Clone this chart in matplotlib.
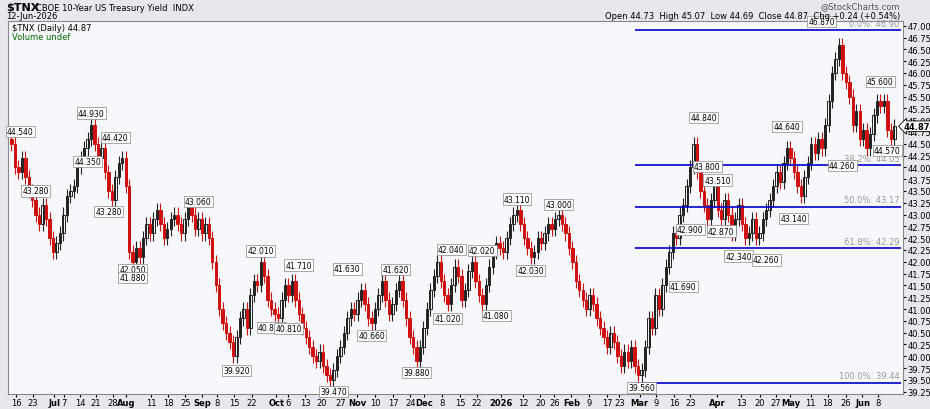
import matplotlib.pyplot as plt
import numpy as np

# daily closes, Jun 16 2025 .. Jun 12 2026
closes = [
    44.5, 44.0, 43.9, 44.2, 43.8, 43.5, 43.3, 43.0, 42.8, 43.2, 42.9,
    42.5, 42.2, 42.4, 42.6, 43.0, 43.4, 43.5, 43.6, 44.0, 44.2, 44.4, 44.6, 44.9, 44.5, 44.2, 44.4, 43.9, 43.5, 43.3, 43.8, 44.1, 44.2, 43.6,
    42.2, 42.0, 42.3, 42.1, 42.5, 42.8, 42.6, 42.9, 43.1, 42.8, 42.5, 42.7, 42.9, 43.0, 42.8, 42.6, 42.9, 43.2, 43.0, 42.7, 42.9,
    42.6, 42.8, 42.5, 42.0, 41.5, 41.0, 40.7, 40.5, 40.3, 40.0, 40.4, 40.8, 41.0, 40.6, 41.3, 41.6, 41.5, 42.0, 41.7, 41.2, 41.0, 40.9,
    40.8, 41.2, 41.5, 41.3, 41.6, 41.2, 40.9, 40.6, 40.4, 40.2, 40.0, 39.9, 40.1, 39.8, 39.6, 39.5, 39.7, 40.0, 40.2, 40.5, 40.8, 41.0, 40.9,
    41.2, 41.4, 41.1, 40.8, 40.7, 41.0, 41.3, 41.6, 41.2, 40.9, 41.1, 41.4, 41.6, 41.2, 40.8, 40.4, 40.2, 39.9, 40.2, 40.6,
    41.0, 41.4, 41.7, 42.0, 41.6, 41.3, 41.1, 41.5, 41.9, 41.7, 41.2, 41.4, 41.8, 42.0, 41.6, 41.3, 41.1, 41.5, 41.9, 42.2, 42.4, 42.3,
    42.2, 42.5, 42.8, 43.0, 43.1, 42.8, 42.5, 42.3, 42.1, 42.2, 42.5, 42.4, 42.6, 42.8, 42.7, 42.9, 43.0, 42.8, 42.6, 42.3, 42.0,
    41.6, 41.4, 41.2, 41.0, 41.3, 41.1, 40.8, 40.6, 40.4, 40.2, 40.5, 40.3, 40.0, 39.8, 40.1, 39.9, 40.2, 39.8, 39.6, 39.7,
    40.2, 40.8, 40.6, 41.3, 41.0, 41.5, 41.9, 42.2, 42.6, 42.5, 43.0, 43.2, 43.6, 44.0, 44.5, 43.9, 43.5, 43.2, 42.9, 43.3, 43.6, 43.1,
    42.9, 43.3, 43.0, 42.6, 42.9, 43.2, 42.8, 42.5, 42.6, 42.9, 42.5, 42.6, 42.9, 43.1, 43.3, 43.6, 43.9, 43.7, 44.1, 44.4, 44.2, 43.9,
    43.6, 43.4, 43.8, 44.1, 44.5, 44.3, 44.6, 44.4, 44.9, 45.4, 46.0, 46.3, 46.6, 46.0, 45.8, 45.5, 44.9, 45.2, 44.6, 44.8,
    44.4, 44.7, 45.1, 45.4, 45.3, 45.4, 44.8, 44.6, 44.87,
]
first_open = 44.6

# x-axis tick labels (day index, label)
tick_pos = [1.3, 6.2, 12.3, 15.2, 19.8, 24.4, 29.3, 33.1, 40.3, 45.2, 50.2, 55.1, 59.4, 64.4, 69.5, 76.5, 79.9, 84.8,
            89.5, 95.0, 99.9, 105.1, 110.3, 115.2, 119.2, 124.4, 129.6, 134.4, 141.5, 147.8, 152.8, 156.8, 161.7,
            166.9, 172.1, 175.6, 181.4, 186.3, 191.5, 196.1, 203.9, 210.8, 216.1, 220.7, 225.0, 230.8, 235.7, 240.9,
            245.8, 250.4]
tick_lab = ['16', '23', 'Jul', '7', '14', '21', '28', 'Aug', '11', '18', '25', 'Sep', '8', '15', '22', 'Oct', '6', '13',
            '20', '27', 'Nov', '10', '17', '24', 'Dec', '8', '15', '22', '2026', '12', '20', '26', 'Feb', '9', '17', '23',
            'Mar', '9', '16', '23', 'Apr', '13', '20', '27', 'May', '11', '18', '26', 'Jun', '8']
bold_lab = {'Jul', 'Aug', 'Sep', 'Oct', 'Nov', 'Dec', '2026', 'Feb', 'Mar', 'Apr', 'May', 'Jun'}

fib_vals = [46.90, 44.05, 43.17, 42.29, 39.44]
fib_text = ['0.0%: 46.90', '38.2%: 44.05', '50.0%: 43.17', '61.8%: 42.29', '100.0%: 39.44']
fib_start = 180

# peak / trough labels (day index, value)
marks = [(1, 44.54), (7, 43.28), (22, 44.35), (23, 44.93), (28, 43.28), (30, 44.42), (35, 42.05), (35, 41.88),
         (54, 43.06), (65, 39.92), (72, 42.01), (75, 40.83), (80, 40.81), (83, 41.71), (93, 39.47), (97, 41.63),
         (104, 40.66), (111, 41.62), (117, 39.88), (127, 42.04), (126, 41.02), (136, 42.02), (140, 41.08),
         (146, 43.11), (150, 42.03), (158, 43.00), (182, 39.56), (194, 41.69), (196, 42.90), (200, 44.84),
         (201, 43.80), (204, 43.51), (205, 42.87), (210, 42.34), (218, 42.26), (224, 44.64), (226, 43.14),
         (234, 46.87), (240, 44.26), (251, 45.60), (253, 44.57)]

closes = np.array(closes)
opens = np.concatenate([[first_open], closes[:-1]])
n = len(closes)

fig = plt.figure(figsize=(9.3, 4.1), dpi=100, facecolor='#e6e8ee')
ax = fig.add_axes([8 / 930, 15 / 410, 895 / 930, 373 / 410], facecolor='#f7f8fc')

for i in range(n):
    o, c = opens[i], closes[i]
    hi = max(o, c) + 0.15
    lo = min(o, c) - 0.15
    prev = closes[i - 1] if i > 0 else first_open
    col = '#d01010' if c < prev else '#222222'
    ax.vlines(i, lo, hi, color=col, lw=0.8)
    body = max(abs(c - o), 0.03)
    ax.bar(i, body, bottom=min(o, c), width=0.7,
           color=('white' if c >= o else col), edgecolor=col, lw=0.7)

for v, t in zip(fib_vals, fib_text):
    ax.hlines(v, fib_start, n + 1, color='#0000cc', lw=1.2)
    ax.text(n + 0.5, v + 0.05, t, ha='right', va='bottom', fontsize=6, color='#999999')

for i, v in marks:
    up = v >= closes[max(i - 3, 0):i + 4].mean()
    ax.text(max(i, 2.5), v + (0.22 if up else -0.22), f'{v:.3f}', ha='center', va='center', fontsize=5.5,
            bbox=dict(boxstyle='square,pad=0.15', fc='white', ec='#888888', lw=0.5))

ax.set_xlim(-1, n + 1.5)
ax.set_ylim(39.2, 47.1)
ax.yaxis.tick_right()
yt = np.arange(39.25, 47.01, 0.25)
ax.set_yticks(yt)
ax.set_yticklabels([f'{v:.2f}' for v in yt], fontsize=6)
ax.set_xticks(tick_pos)
ax.set_xticklabels(tick_lab, fontsize=6)
for lab in ax.get_xticklabels():
    if lab.get_text() in bold_lab:
        lab.set_fontweight('bold')
ax.tick_params(length=2, pad=1)
for s in ax.spines.values():
    s.set_color('#888888')

ax.text(n + 1.8, closes[-1], f'{closes[-1]:.2f}', ha='left', va='center', fontsize=6, fontweight='bold',
        bbox=dict(boxstyle='larrow,pad=0.1', fc='white', ec='black', lw=0.6), clip_on=False, zorder=5)
ax.text(0.005, 0.995, '$TNX (Daily) 44.87', transform=ax.transAxes, fontsize=6, va='top')
ax.text(0.005, 0.97, 'Volume undef', transform=ax.transAxes, fontsize=6, va='top', color='#006600')

fig.text(6 / 930, 1 - 3 / 410, '$TNX', fontsize=8, fontweight='bold', va='top')
fig.text(36 / 930, 1 - 4 / 410, 'CBOE 10-Year US Treasury Yield  INDX', fontsize=6, va='top')
fig.text(6 / 930, 1 - 12 / 410, '12-Jun-2026', fontsize=6, va='top')
fig.text(900 / 930, 1 - 2 / 410, '@StockCharts.com', fontsize=6, va='top', ha='right', color='#555555')
fig.text(900 / 930, 1 - 12 / 410, 'Open 44.73  High 45.07  Low 44.69  Close 44.87  Chg +0.24 (+0.54%)',
         fontsize=6, va='top', ha='right')

fig.savefig('out.png', dpi=100, facecolor=fig.get_facecolor())
